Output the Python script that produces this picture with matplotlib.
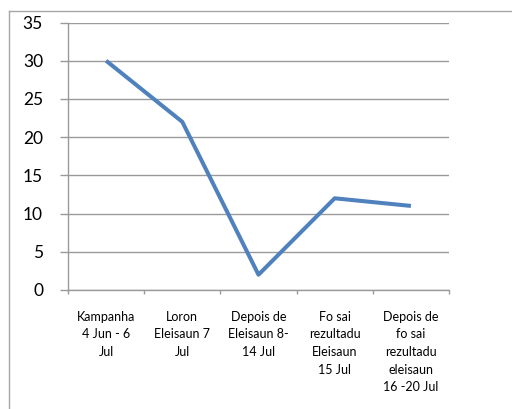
import matplotlib
matplotlib.use("Agg")
import matplotlib.pyplot as plt
from matplotlib.lines import Line2D

categories = ["Kampanha\n4 Jun - 6\nJul", "Loron\nEleisaun 7\nJul", "Depois de\nEleisaun 8-\n14 Jul",
              "Fo sai\nrezultadu\nEleisaun\n15 Jul", "Depois de\nfo sai\nrezultadu\neleisaun\n16 -20 Jul"]
values = [30, 22, 2, 12, 11]
yticks = [0, 5, 10, 15, 20, 25, 30, 35]

plt.rcParams['font.family'] = ['Lato', 'DejaVu Sans']
fig = plt.figure(figsize=(5.12, 4.09), dpi=100)
gray = "#9a9a9a"

# chart border
fig.add_artist(Line2D([9/512, 9/512], [0, 1 - 11/409], transform=fig.transFigure, color="#a6a6a6", lw=1))
fig.add_artist(Line2D([9/512, 1], [1 - 11/409, 1 - 11/409], transform=fig.transFigure, color="#a6a6a6", lw=1))

ax = fig.add_axes([68/512, 1 - 290/409, (449 - 68)/512, (290 - 22.5)/409])
x = list(range(len(values)))
ax.plot(x, values, color="#4F81BD", lw=2.9, solid_capstyle="butt")
ax.set_xlim(-0.5, len(values) - 0.5)
ax.set_ylim(0, 35)
ax.set_yticks(yticks)
ax.set_yticklabels([str(v) for v in yticks], fontsize=12.5)
ax.yaxis.grid(True, color=gray, lw=1)
ax.set_axisbelow(True)
ax.set_xticks([i - 0.5 for i in range(len(values) + 1)], minor=False)
ax.set_xticklabels([])
ax.set_xticks(x, minor=True)
ax.set_xticklabels(categories, minor=True, fontsize=9, linespacing=1.56, va="top")
ax.tick_params(axis="x", which="major", length=3, color=gray, width=1)
ax.tick_params(axis="x", which="minor", length=0, pad=15)
ax.tick_params(axis="y", length=6, color=gray, width=1, pad=12)
for s in ["top", "right"]:
    ax.spines[s].set_visible(False)
for s in ["left", "bottom"]:
    ax.spines[s].set_color(gray)
    ax.spines[s].set_linewidth(1)

fig.savefig("out.png", dpi=100)
